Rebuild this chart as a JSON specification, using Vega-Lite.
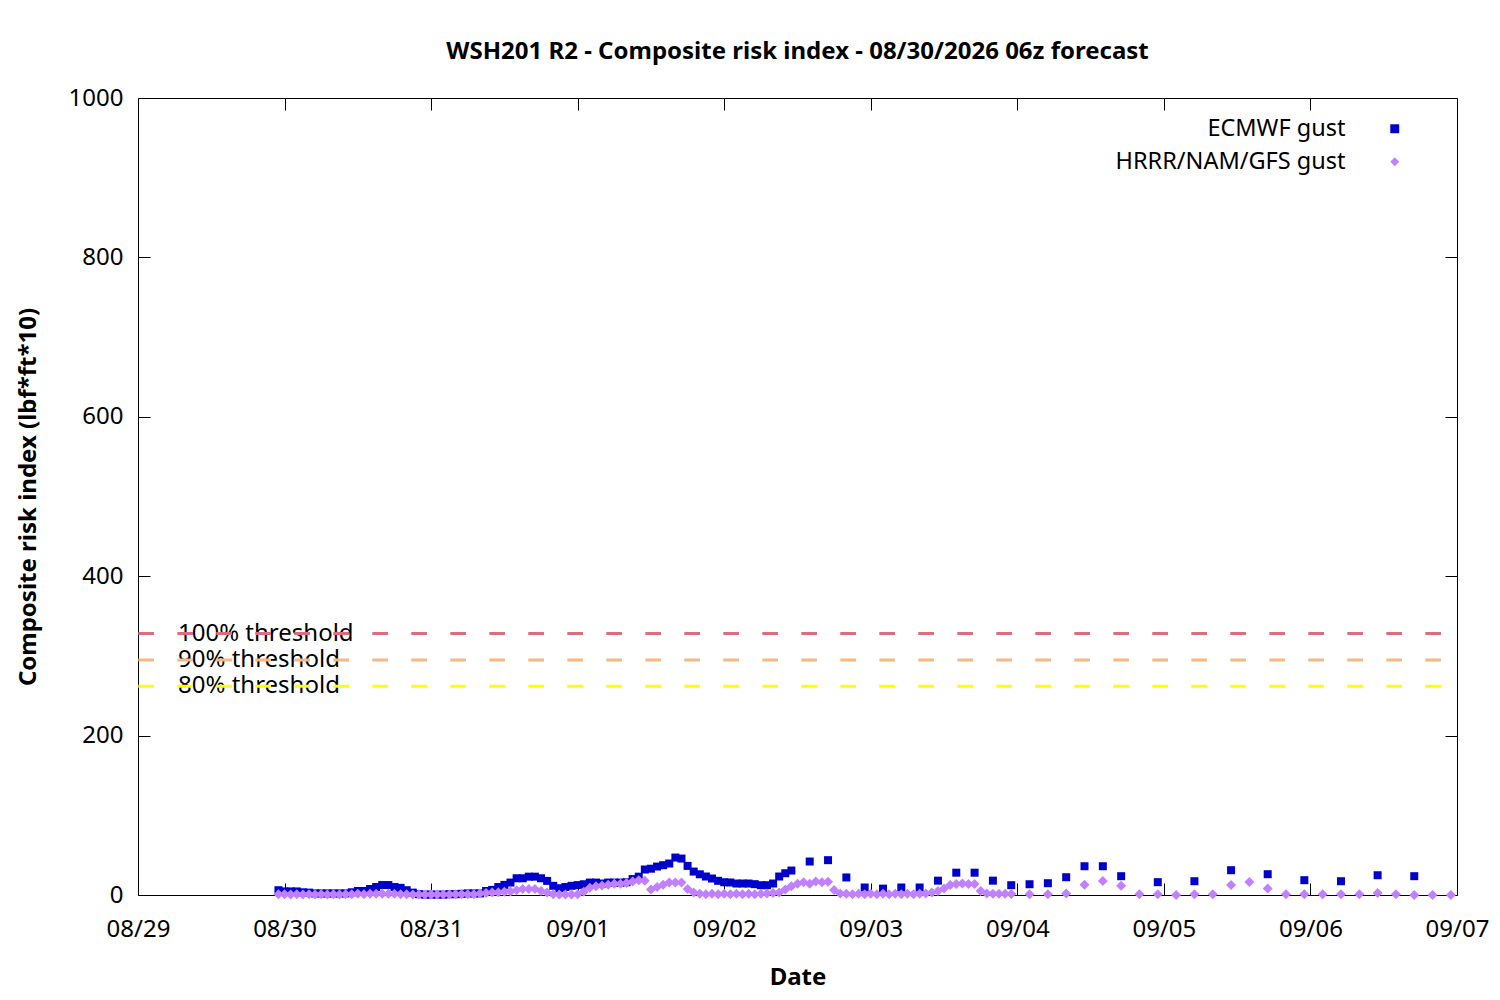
{
  "$schema": "https://vega.github.io/schema/vega-lite/v6.json",
  "description": "WSH201 R2 composite risk index forecast",
  "autosize": "none",
  "width": 1319,
  "height": 797,
  "padding": {"left": 138, "top": 98, "right": 43, "bottom": 105},
  "background": "white",
  "config": {
    "font": "Noto Sans",
    "view": {"stroke": "black", "strokeWidth": 1},
    "axis": {"grid": false, "domain": false, "tickColor": "black", "tickSize": -12, "tickWidth": 1, "labelColor": "black", "labelFontSize": 24, "labelFont": "Noto Sans", "titleFont": "Noto Sans", "titleFontSize": 24, "titleFontWeight": "bold", "titleColor": "black", "labelFlush": false, "labelOverlap": false}
  },
  "title": {
    "text": "WSH201 R2 - Composite risk index - 08/30/2026 06z forecast",
    "font": "Noto Sans",
    "fontSize": 24,
    "fontWeight": "bold",
    "color": "black",
    "anchor": "middle",
    "offset": 22
  },
  "datasets": {
    "thresholds": [
      {"level": "100%", "label": "100% threshold", "v": 328},
      {"level": "90%", "label": "90% threshold", "v": 295},
      {"level": "80%", "label": "80% threshold", "v": 262}
    ],
    "ecmwf": [
      {"t": "2026-08-29T23:00", "v": 6},
      {"t": "2026-08-30T00:00", "v": 4.5},
      {"t": "2026-08-30T01:00", "v": 4.5},
      {"t": "2026-08-30T02:00", "v": 4.5},
      {"t": "2026-08-30T03:00", "v": 3.4},
      {"t": "2026-08-30T04:00", "v": 3},
      {"t": "2026-08-30T05:00", "v": 2},
      {"t": "2026-08-30T06:00", "v": 2},
      {"t": "2026-08-30T07:00", "v": 2},
      {"t": "2026-08-30T08:00", "v": 2},
      {"t": "2026-08-30T09:00", "v": 2},
      {"t": "2026-08-30T10:00", "v": 2},
      {"t": "2026-08-30T11:00", "v": 3.4},
      {"t": "2026-08-30T12:00", "v": 5},
      {"t": "2026-08-30T13:00", "v": 5},
      {"t": "2026-08-30T14:00", "v": 7.5},
      {"t": "2026-08-30T15:00", "v": 10},
      {"t": "2026-08-30T16:00", "v": 12.5},
      {"t": "2026-08-30T17:00", "v": 12.5},
      {"t": "2026-08-30T18:00", "v": 10},
      {"t": "2026-08-30T19:00", "v": 9},
      {"t": "2026-08-30T20:00", "v": 6},
      {"t": "2026-08-30T21:00", "v": 3},
      {"t": "2026-08-30T22:00", "v": 1},
      {"t": "2026-08-30T23:00", "v": 0.5},
      {"t": "2026-08-31T00:00", "v": 0.5},
      {"t": "2026-08-31T01:00", "v": 0.5},
      {"t": "2026-08-31T02:00", "v": 0.5},
      {"t": "2026-08-31T03:00", "v": 1},
      {"t": "2026-08-31T04:00", "v": 1},
      {"t": "2026-08-31T05:00", "v": 1.5},
      {"t": "2026-08-31T06:00", "v": 2},
      {"t": "2026-08-31T07:00", "v": 2},
      {"t": "2026-08-31T08:00", "v": 2},
      {"t": "2026-08-31T09:00", "v": 5},
      {"t": "2026-08-31T10:00", "v": 6.4},
      {"t": "2026-08-31T11:00", "v": 10},
      {"t": "2026-08-31T12:00", "v": 12.7},
      {"t": "2026-08-31T13:00", "v": 15.6},
      {"t": "2026-08-31T14:00", "v": 21},
      {"t": "2026-08-31T15:00", "v": 21},
      {"t": "2026-08-31T16:00", "v": 23},
      {"t": "2026-08-31T17:00", "v": 23},
      {"t": "2026-08-31T18:00", "v": 21},
      {"t": "2026-08-31T19:00", "v": 17.7},
      {"t": "2026-08-31T20:00", "v": 11.5},
      {"t": "2026-08-31T21:00", "v": 8.5},
      {"t": "2026-08-31T22:00", "v": 10},
      {"t": "2026-08-31T23:00", "v": 11.5},
      {"t": "2026-09-01T00:00", "v": 12.4},
      {"t": "2026-09-01T01:00", "v": 13.5},
      {"t": "2026-09-01T02:00", "v": 15.6},
      {"t": "2026-09-01T03:00", "v": 15.6},
      {"t": "2026-09-01T04:00", "v": 14.4},
      {"t": "2026-09-01T05:00", "v": 15.6},
      {"t": "2026-09-01T06:00", "v": 15.6},
      {"t": "2026-09-01T07:00", "v": 15.6},
      {"t": "2026-09-01T08:00", "v": 16},
      {"t": "2026-09-01T09:00", "v": 20},
      {"t": "2026-09-01T10:00", "v": 23},
      {"t": "2026-09-01T11:00", "v": 32},
      {"t": "2026-09-01T12:00", "v": 33},
      {"t": "2026-09-01T13:00", "v": 35.7},
      {"t": "2026-09-01T14:00", "v": 37.4},
      {"t": "2026-09-01T15:00", "v": 39.5},
      {"t": "2026-09-01T16:00", "v": 47},
      {"t": "2026-09-01T17:00", "v": 45.7},
      {"t": "2026-09-01T18:00", "v": 36.5},
      {"t": "2026-09-01T19:00", "v": 29.4},
      {"t": "2026-09-01T20:00", "v": 26},
      {"t": "2026-09-01T21:00", "v": 23.2},
      {"t": "2026-09-01T22:00", "v": 20.7},
      {"t": "2026-09-01T23:00", "v": 17.8},
      {"t": "2026-09-02T00:00", "v": 16},
      {"t": "2026-09-02T01:00", "v": 15.7},
      {"t": "2026-09-02T02:00", "v": 14.4},
      {"t": "2026-09-02T03:00", "v": 14.4},
      {"t": "2026-09-02T04:00", "v": 14.4},
      {"t": "2026-09-02T05:00", "v": 13.6},
      {"t": "2026-09-02T06:00", "v": 12.3},
      {"t": "2026-09-02T07:00", "v": 12.3},
      {"t": "2026-09-02T08:00", "v": 14.4},
      {"t": "2026-09-02T09:00", "v": 23.2},
      {"t": "2026-09-02T10:00", "v": 27.3},
      {"t": "2026-09-02T11:00", "v": 30.7},
      {"t": "2026-09-02T14:00", "v": 42},
      {"t": "2026-09-02T17:00", "v": 43.7},
      {"t": "2026-09-02T20:00", "v": 22},
      {"t": "2026-09-02T23:00", "v": 9.4},
      {"t": "2026-09-03T02:00", "v": 8},
      {"t": "2026-09-03T05:00", "v": 9.4},
      {"t": "2026-09-03T08:00", "v": 9.4},
      {"t": "2026-09-03T11:00", "v": 18},
      {"t": "2026-09-03T14:00", "v": 28},
      {"t": "2026-09-03T17:00", "v": 28},
      {"t": "2026-09-03T20:00", "v": 18},
      {"t": "2026-09-03T23:00", "v": 12.3},
      {"t": "2026-09-04T02:00", "v": 13.5},
      {"t": "2026-09-04T05:00", "v": 14.8},
      {"t": "2026-09-04T08:00", "v": 22.3},
      {"t": "2026-09-04T11:00", "v": 36.1},
      {"t": "2026-09-04T14:00", "v": 36.1},
      {"t": "2026-09-04T17:00", "v": 23.6},
      {"t": "2026-09-04T23:00", "v": 16.1},
      {"t": "2026-09-05T05:00", "v": 17.3},
      {"t": "2026-09-05T11:00", "v": 31.1},
      {"t": "2026-09-05T17:00", "v": 26.1},
      {"t": "2026-09-05T23:00", "v": 18.6},
      {"t": "2026-09-06T05:00", "v": 17.3},
      {"t": "2026-09-06T11:00", "v": 24.8},
      {"t": "2026-09-06T17:00", "v": 23.6}
    ],
    "hrrr": [
      {"t": "2026-08-29T23:00", "v": 1},
      {"t": "2026-08-30T00:00", "v": 1},
      {"t": "2026-08-30T01:00", "v": 0.5},
      {"t": "2026-08-30T02:00", "v": 1},
      {"t": "2026-08-30T03:00", "v": 0.5},
      {"t": "2026-08-30T04:00", "v": 1},
      {"t": "2026-08-30T05:00", "v": 0.5},
      {"t": "2026-08-30T06:00", "v": 1},
      {"t": "2026-08-30T07:00", "v": 0.5},
      {"t": "2026-08-30T08:00", "v": 1},
      {"t": "2026-08-30T09:00", "v": 0.5},
      {"t": "2026-08-30T10:00", "v": 1},
      {"t": "2026-08-30T11:00", "v": 1},
      {"t": "2026-08-30T12:00", "v": 1.5},
      {"t": "2026-08-30T13:00", "v": 1},
      {"t": "2026-08-30T14:00", "v": 1.5},
      {"t": "2026-08-30T15:00", "v": 1.5},
      {"t": "2026-08-30T16:00", "v": 1.5},
      {"t": "2026-08-30T17:00", "v": 1.5},
      {"t": "2026-08-30T18:00", "v": 1.5},
      {"t": "2026-08-30T19:00", "v": 1},
      {"t": "2026-08-30T20:00", "v": 1},
      {"t": "2026-08-30T21:00", "v": 0.5},
      {"t": "2026-08-30T22:00", "v": 0.5},
      {"t": "2026-08-30T23:00", "v": 0.5},
      {"t": "2026-08-31T00:00", "v": 0.5},
      {"t": "2026-08-31T01:00", "v": 0.5},
      {"t": "2026-08-31T02:00", "v": 0.5},
      {"t": "2026-08-31T03:00", "v": 0.5},
      {"t": "2026-08-31T04:00", "v": 1},
      {"t": "2026-08-31T05:00", "v": 1},
      {"t": "2026-08-31T06:00", "v": 1},
      {"t": "2026-08-31T07:00", "v": 1},
      {"t": "2026-08-31T08:00", "v": 2},
      {"t": "2026-08-31T09:00", "v": 2.5},
      {"t": "2026-08-31T10:00", "v": 3},
      {"t": "2026-08-31T11:00", "v": 3.5},
      {"t": "2026-08-31T12:00", "v": 4},
      {"t": "2026-08-31T13:00", "v": 4.5},
      {"t": "2026-08-31T14:00", "v": 6},
      {"t": "2026-08-31T15:00", "v": 7.5},
      {"t": "2026-08-31T16:00", "v": 7.5},
      {"t": "2026-08-31T17:00", "v": 7.5},
      {"t": "2026-08-31T18:00", "v": 5},
      {"t": "2026-08-31T19:00", "v": 3},
      {"t": "2026-08-31T20:00", "v": 1},
      {"t": "2026-08-31T21:00", "v": 0.5},
      {"t": "2026-08-31T22:00", "v": 0.5},
      {"t": "2026-08-31T23:00", "v": 0.5},
      {"t": "2026-09-01T00:00", "v": 1},
      {"t": "2026-09-01T01:00", "v": 4},
      {"t": "2026-09-01T02:00", "v": 9},
      {"t": "2026-09-01T03:00", "v": 11},
      {"t": "2026-09-01T04:00", "v": 12},
      {"t": "2026-09-01T05:00", "v": 13},
      {"t": "2026-09-01T06:00", "v": 14},
      {"t": "2026-09-01T07:00", "v": 14},
      {"t": "2026-09-01T08:00", "v": 15},
      {"t": "2026-09-01T09:00", "v": 17},
      {"t": "2026-09-01T10:00", "v": 18.6},
      {"t": "2026-09-01T11:00", "v": 18},
      {"t": "2026-09-01T12:00", "v": 7},
      {"t": "2026-09-01T13:00", "v": 10},
      {"t": "2026-09-01T14:00", "v": 13},
      {"t": "2026-09-01T15:00", "v": 15.8},
      {"t": "2026-09-01T16:00", "v": 15.8},
      {"t": "2026-09-01T17:00", "v": 15.8},
      {"t": "2026-09-01T18:00", "v": 7.5},
      {"t": "2026-09-01T19:00", "v": 3},
      {"t": "2026-09-01T20:00", "v": 1.5},
      {"t": "2026-09-01T21:00", "v": 1},
      {"t": "2026-09-01T22:00", "v": 1.5},
      {"t": "2026-09-01T23:00", "v": 1},
      {"t": "2026-09-02T00:00", "v": 1.5},
      {"t": "2026-09-02T01:00", "v": 1},
      {"t": "2026-09-02T02:00", "v": 1.5},
      {"t": "2026-09-02T03:00", "v": 1},
      {"t": "2026-09-02T04:00", "v": 1.5},
      {"t": "2026-09-02T05:00", "v": 1},
      {"t": "2026-09-02T06:00", "v": 1.5},
      {"t": "2026-09-02T07:00", "v": 2},
      {"t": "2026-09-02T08:00", "v": 2.5},
      {"t": "2026-09-02T09:00", "v": 3},
      {"t": "2026-09-02T10:00", "v": 7},
      {"t": "2026-09-02T11:00", "v": 11},
      {"t": "2026-09-02T12:00", "v": 14},
      {"t": "2026-09-02T13:00", "v": 16},
      {"t": "2026-09-02T14:00", "v": 14},
      {"t": "2026-09-02T15:00", "v": 17},
      {"t": "2026-09-02T16:00", "v": 16},
      {"t": "2026-09-02T17:00", "v": 16.5},
      {"t": "2026-09-02T18:00", "v": 6.3},
      {"t": "2026-09-02T19:00", "v": 2},
      {"t": "2026-09-02T20:00", "v": 1.5},
      {"t": "2026-09-02T21:00", "v": 1},
      {"t": "2026-09-02T22:00", "v": 1.5},
      {"t": "2026-09-02T23:00", "v": 1},
      {"t": "2026-09-03T00:00", "v": 1.5},
      {"t": "2026-09-03T01:00", "v": 1},
      {"t": "2026-09-03T02:00", "v": 1.5},
      {"t": "2026-09-03T03:00", "v": 1},
      {"t": "2026-09-03T04:00", "v": 1.5},
      {"t": "2026-09-03T05:00", "v": 1},
      {"t": "2026-09-03T06:00", "v": 1.5},
      {"t": "2026-09-03T07:00", "v": 1},
      {"t": "2026-09-03T08:00", "v": 1.5},
      {"t": "2026-09-03T09:00", "v": 2},
      {"t": "2026-09-03T10:00", "v": 3},
      {"t": "2026-09-03T11:00", "v": 5},
      {"t": "2026-09-03T12:00", "v": 8},
      {"t": "2026-09-03T13:00", "v": 12.5},
      {"t": "2026-09-03T14:00", "v": 13.8},
      {"t": "2026-09-03T15:00", "v": 14.5},
      {"t": "2026-09-03T16:00", "v": 13.8},
      {"t": "2026-09-03T17:00", "v": 13.8},
      {"t": "2026-09-03T18:00", "v": 5},
      {"t": "2026-09-03T19:00", "v": 2},
      {"t": "2026-09-03T20:00", "v": 1.5},
      {"t": "2026-09-03T21:00", "v": 1.5},
      {"t": "2026-09-03T22:00", "v": 1.5},
      {"t": "2026-09-03T23:00", "v": 1.2},
      {"t": "2026-09-04T02:00", "v": 1},
      {"t": "2026-09-04T05:00", "v": 1},
      {"t": "2026-09-04T08:00", "v": 2},
      {"t": "2026-09-04T11:00", "v": 12.9},
      {"t": "2026-09-04T14:00", "v": 17.5},
      {"t": "2026-09-04T17:00", "v": 11.7},
      {"t": "2026-09-04T20:00", "v": 1},
      {"t": "2026-09-04T23:00", "v": 1},
      {"t": "2026-09-05T02:00", "v": 0},
      {"t": "2026-09-05T05:00", "v": 1},
      {"t": "2026-09-05T08:00", "v": 1},
      {"t": "2026-09-05T11:00", "v": 12.5},
      {"t": "2026-09-05T14:00", "v": 16.3},
      {"t": "2026-09-05T17:00", "v": 8},
      {"t": "2026-09-05T20:00", "v": 1},
      {"t": "2026-09-05T23:00", "v": 1},
      {"t": "2026-09-06T02:00", "v": 1},
      {"t": "2026-09-06T05:00", "v": 1},
      {"t": "2026-09-06T08:00", "v": 1},
      {"t": "2026-09-06T11:00", "v": 2.4},
      {"t": "2026-09-06T14:00", "v": 1},
      {"t": "2026-09-06T17:00", "v": 0},
      {"t": "2026-09-06T20:00", "v": 0},
      {"t": "2026-09-06T23:00", "v": 0}
    ]
  },
  "layer": [
    {
      "data": {"name": "thresholds"},
      "mark": {"type": "text", "align": "left", "baseline": "middle", "fontSize": 24, "font": "Noto Sans", "color": "black"},
      "encoding": {
        "x": {
          "datum": {"year": 2026, "month": 8, "date": 29, "hours": 6, "minutes": 33},
          "type": "temporal",
          "scale": {"domain": [{"year": 2026, "month": 8, "date": 29}, {"year": 2026, "month": 9, "date": 7}]},
          "axis": {"orient": "top", "labels": false, "title": null, "tickCount": {"interval": "day", "step": 1}}
        },
        "y": {"field": "v", "type": "quantitative", "axis": null},
        "text": {"field": "label"}
      }
    },
    {
      "data": {"name": "thresholds"},
      "mark": {"type": "rule", "strokeDash": [15.7, 23.3], "strokeDashOffset": 23, "strokeWidth": 3},
      "encoding": {
        "y": {
          "field": "v",
          "type": "quantitative",
          "axis": {"orient": "right", "labels": false, "title": null, "values": [0, 200, 400, 600, 800, 1000]}
        },
        "stroke": {
          "field": "level",
          "type": "nominal",
          "scale": {"domain": ["100%", "90%", "80%"], "range": ["#de6c80", "#f8b880", "#ffff00"]},
          "legend": null
        }
      }
    },
    {
      "data": {"name": "ecmwf"},
      "mark": {"type": "point", "filled": true, "opacity": 1, "size": 64},
      "encoding": {
        "x": {
          "field": "t",
          "type": "temporal",
          "axis": {"orient": "bottom", "title": "Date", "format": "%m/%d", "tickCount": {"interval": "day", "step": 1}, "labelPadding": 34, "titlePadding": 24}
        },
        "y": {
          "field": "v",
          "type": "quantitative",
          "scale": {"domain": [0, 1000], "nice": false},
          "axis": {"orient": "left", "title": "Composite risk index (lbf*ft*10)", "format": "d", "values": [0, 200, 400, 600, 800, 1000], "labelPadding": 27, "titlePadding": 28}
        },
        "color": {
          "datum": "ECMWF gust",
          "type": "nominal",
          "scale": {"domain": ["ECMWF gust", "HRRR/NAM/GFS gust"], "range": ["#0000cc", "#c080ff"]},
          "legend": {"orient": "none", "legendX": 1245, "legendY": 19, "title": null, "labelFontSize": 23.5, "labelFont": "Noto Sans", "labelColor": "black", "labelAlign": "right", "labelOffset": -61, "labelLimit": 600, "symbolSize": 80, "rowPadding": 8}
        },
        "shape": {
          "datum": "ECMWF gust",
          "type": "nominal",
          "scale": {"domain": ["ECMWF gust", "HRRR/NAM/GFS gust"], "range": ["square", "diamond"]},
          "legend": {"orient": "none", "legendX": 1245, "legendY": 19, "title": null, "labelFontSize": 23.5, "labelFont": "Noto Sans", "labelColor": "black", "labelAlign": "right", "labelOffset": -61, "labelLimit": 600, "symbolSize": 80, "rowPadding": 8}
        }
      }
    },
    {
      "data": {"name": "hrrr"},
      "mark": {"type": "point", "filled": true, "opacity": 1, "size": 100},
      "encoding": {
        "x": {"field": "t", "type": "temporal", "axis": null},
        "y": {"field": "v", "type": "quantitative", "axis": null},
        "color": {"datum": "HRRR/NAM/GFS gust", "type": "nominal"},
        "shape": {"datum": "HRRR/NAM/GFS gust", "type": "nominal"}
      }
    }
  ],
  "resolve": {"axis": {"x": "independent", "y": "independent"}}
}
